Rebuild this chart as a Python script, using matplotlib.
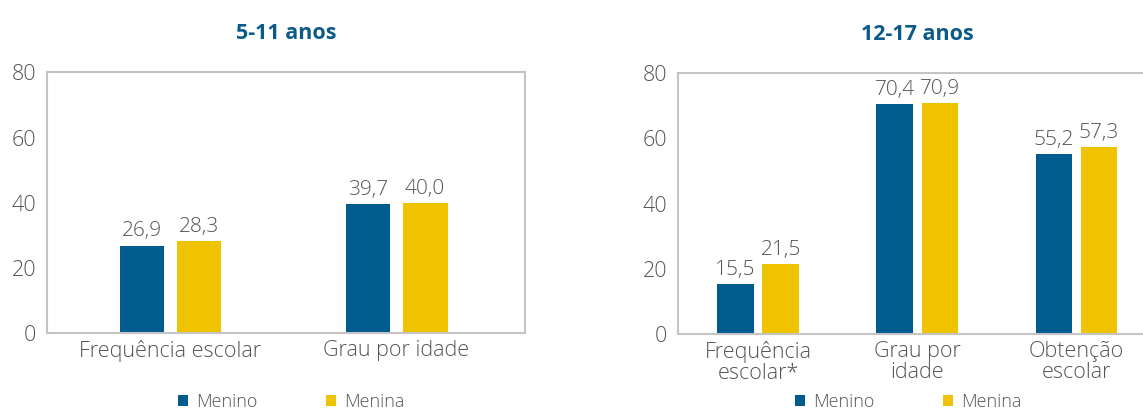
import matplotlib.pyplot as plt
import numpy as np

# Dados
cat_5_11 = ["Frequência escolar", "Grau por idade"]
menino_5_11 = [26.9, 39.7]
menina_5_11 = [28.3, 40.0]

cat_12_17 = ["Frequência\nescolar*", "Grau por\nidade", "Obtenção\nescolar"]
menino_12_17 = [15.5, 70.4, 55.2]
menina_12_17 = [21.5, 70.9, 57.3]

yticks = [0, 20, 40, 60, 80]

azul = "#005b8f"
amarelo = "#efc300"
cinza_txt = "#555555"
cinza_borda = "#c4c4c4"

plt.rcParams["font.family"] = ["Open Sans", "DejaVu Sans"]

W, H = 1143, 412
fig = plt.figure(figsize=(W / 100, H / 100), dpi=100)


def painel(px0, px1, py0, py1, cats, v1, v2, xlim, largura, desloc, titulo):
    ax = fig.add_axes([px0 / W, 1 - py1 / H, (px1 - px0) / W, (py1 - py0) / H])
    x = np.arange(len(cats))
    b1 = ax.bar(x - desloc, v1, largura, color=azul, label="Menino", zorder=2)
    b2 = ax.bar(x + desloc, v2, largura, color=amarelo, label="Menina", zorder=2)
    for barras in (b1, b2):
        for r in barras:
            v = r.get_height()
            ax.annotate(f"{v:.1f}".replace(".", ","),
                        (r.get_x() + r.get_width() / 2, v),
                        xytext=(0, 3), textcoords="offset points",
                        ha="center", va="bottom", fontsize=15,
                        color=cinza_txt, fontweight="light")
    ax.set_xlim(*xlim)
    ax.set_ylim(0, 80)
    ax.set_yticks(yticks)
    ax.set_xticks(x)
    ax.set_xticklabels(cats, linespacing=1.0)
    ax.tick_params(length=0, labelsize=15.5, labelcolor=cinza_txt, pad=8)
    ax.tick_params(axis="x", pad=5)
    for lab in ax.get_xticklabels() + ax.get_yticklabels():
        lab.set_fontweight("light")
    for s in ax.spines.values():
        s.set_color(cinza_borda)
        s.set_linewidth(1.5)
    ax.set_title(titulo, fontsize=15.5, fontweight="bold", color="#0a5a8a", pad=24)
    return ax


ax1 = painel(47.3, 524.7, 72.3, 333.3, cat_5_11, menino_5_11, menina_5_11,
             (-0.545, 1.567), 0.198, 0.1265, "5-11 anos")
ax2 = painel(678.3, 1156, 73, 334.3, cat_12_17, menino_12_17, menina_12_17,
             (-0.502, 2.5), 0.23, 0.142, "12-17 anos")

# legendas abaixo de cada painel
for ax, cx in ((ax1, 291 / W), (ax2, 908 / W)):
    leg = fig.legend(*ax.get_legend_handles_labels(), loc="center",
                     bbox_to_anchor=(cx, 1 - 402 / H), ncol=2, frameon=False,
                     fontsize=13, labelcolor=cinza_txt, handlelength=0.55,
                     handleheight=0.55, columnspacing=3.8, handletextpad=0.45,
                     borderpad=0.2)
    for t in leg.get_texts():
        t.set_fontweight("light")

fig.savefig("out.png", dpi=100)
